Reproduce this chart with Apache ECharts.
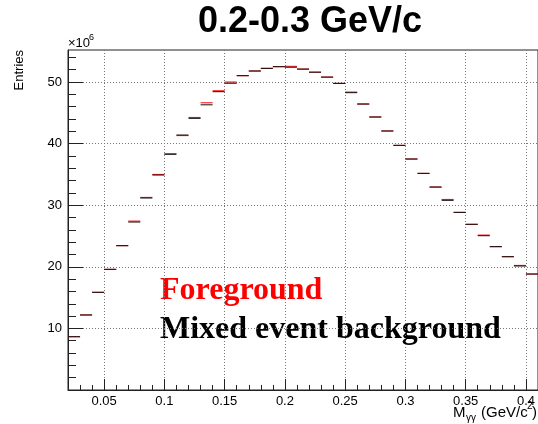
<!DOCTYPE html>
<html>
<head>
<meta charset="utf-8">
<script src="https://cdn.jsdelivr.net/npm/echarts@6/dist/echarts.min.js"></script>
<style>html,body{margin:0;padding:0;background:#fff}#c{width:538px;height:424px}</style>
</head>
<body>
<div id="c"></div>
<script>
// ---- data (units of 10^6 entries) ----
const binLow = [0.02,0.03,0.04,0.05,0.06,0.07,0.08,0.09,0.10,0.11,0.12,0.13,0.14,0.15,0.16,0.17,0.18,0.19,0.20,0.21,0.22,0.23,0.24,0.25,0.26,0.27,0.28,0.29,0.30,0.31,0.32,0.33,0.34,0.35,0.36,0.37,0.38,0.39,0.40];
const binWidth = 0.01;
const background = [8.65,12.18,15.86,19.59,23.43,27.27,31.17,34.90,38.26,41.40,44.10,46.30,48.43,49.80,51.03,51.79,52.22,52.49,52.40,52.10,51.60,50.80,49.78,48.27,46.43,44.32,42.05,39.72,37.50,35.17,32.95,30.79,28.84,26.90,25.05,23.27,21.64,20.13,18.83];
const foreground = [8.65,12.18,15.86,19.59,23.43,27.42,31.27,35.00,38.36,41.30,44.25,46.63,48.58,50.00,51.03,51.79,52.22,52.49,52.55,52.10,51.60,50.80,49.78,48.37,46.43,44.32,42.05,39.72,37.50,35.17,32.95,30.94,28.84,26.90,25.15,23.27,21.64,20.23,18.83];
const xMajor = [0.05,0.10,0.15,0.20,0.25,0.30,0.35,0.40];
const xMinor = [0.02,0.03,0.04,0.06,0.07,0.08,0.09,0.11,0.12,0.13,0.14,0.16,0.17,0.18,0.19,0.21,0.22,0.23,0.24,0.26,0.27,0.28,0.29,0.31,0.32,0.33,0.34,0.36,0.37,0.38,0.39];
const yMajor = [10,20,30,40,50];
const yMinor = [2,4,6,8,12,14,16,18,22,24,26,28,32,34,36,38,42,44,46,48,52,54];
const xMin = 0.02, xMax = 0.41, yMin = 0, yMax = 55.2;

const FONT = '"Liberation Sans", Arial, Helvetica, sans-serif';
const SERIF = '"Liberation Serif", "Times New Roman", serif';
const AX = '#222';

function histData(vals){ return binLow.map((lo,i)=>[lo, lo+binWidth, vals[i]]); }
function histSeries(name, vals, color, w){
  return {
    type:'custom', name, data: histData(vals), clip:true,
    encode:{x:[0,1], y:2},
    renderItem:(params, api)=>{
      const a = api.coord([api.value(0), api.value(2)]);
      const b = api.coord([api.value(1), api.value(2)]);
      return {type:'line', shape:{x1:a[0],y1:a[1],x2:b[0],y2:b[1]}, style:{stroke:color, lineWidth:w}};
    }
  };
}

const chart = echarts.init(document.getElementById('c'), null, {renderer:'canvas'});
chart.setOption({
  animation:false,
  backgroundColor:'#fff',
  grid:{left:68, top:50, width:471, height:340, show:true, borderColor:AX, borderWidth:1, backgroundColor:'transparent'},
  xAxis:[{
    type:'value', min:xMin, max:xMax, position:'bottom',
    axisLine:{show:true, onZero:false, lineStyle:{color:AX}},
    axisTick:{show:true, inside:true, length:11, customValues:xMajor, lineStyle:{color:AX}},
    axisLabel:{customValues:xMajor, formatter:v=>String(+(+v).toFixed(2)), fontSize:13, fontFamily:FONT, color:'#000', margin:5},
    splitLine:{show:true, lineStyle:{type:[1,2], color:'#777'}}
  },{
    type:'value', min:xMin, max:xMax, position:'bottom', offset:0,
    axisLine:{show:false},
    axisTick:{show:true, inside:true, length:5, customValues:xMinor, lineStyle:{color:AX}},
    axisLabel:{show:false}, splitLine:{show:false}
  }],
  yAxis:[{
    type:'value', min:yMin, max:yMax, position:'left',
    axisLine:{show:true, onZero:false, lineStyle:{color:AX}},
    axisTick:{show:true, inside:true, length:15, customValues:yMajor, lineStyle:{color:AX}},
    axisLabel:{customValues:yMajor, fontSize:13, fontFamily:FONT, color:'#000', margin:6},
    splitLine:{show:true, lineStyle:{type:[1,2], color:'#777'}}
  },{
    type:'value', min:yMin, max:yMax, position:'left', offset:0,
    axisLine:{show:false},
    axisTick:{show:true, inside:true, length:8, customValues:yMinor, lineStyle:{color:AX}},
    axisLabel:{show:false}, splitLine:{show:false}
  }],
  series:[ histSeries('Foreground', foreground, '#ff0000', 1), histSeries('Mixed event background', background, '#111', 1) ],
  graphic:[
    {type:'text', x:310, y:22.5, style:{text:'0.2-0.3 GeV/c', font:'bold 36px '+FONT, fill:'#000', align:'center', verticalAlign:'middle'}},
    {type:'text', x:19, y:50, rotation:Math.PI/2, style:{text:'Entries', font:'13px '+FONT, fill:'#000', align:'right', verticalAlign:'middle'}},
    {type:'text', x:68, y:43.5, style:{text:'\u00d710', font:'13px '+FONT, fill:'#000', align:'left', verticalAlign:'middle'}},
    {type:'text', x:89, y:37.5, style:{text:'6', font:'9px '+FONT, fill:'#000', align:'left', verticalAlign:'middle'}},
    {type:'text', x:453, y:413, style:{text:'M', font:'15px '+FONT, fill:'#000', align:'left', verticalAlign:'middle'}},
    {type:'text', x:466, y:418, style:{text:'\u03b3\u03b3', font:'10px '+FONT, fill:'#000', align:'left', verticalAlign:'middle'}},
    {type:'text', x:481, y:413, style:{text:'(GeV/c', font:'15px '+FONT, fill:'#000', align:'left', verticalAlign:'middle'}},
    {type:'text', x:527, y:406, style:{text:'2', font:'10px '+FONT, fill:'#000', align:'left', verticalAlign:'middle'}},
    {type:'text', x:532, y:413, style:{text:')', font:'15px '+FONT, fill:'#000', align:'left', verticalAlign:'middle'}},
    {type:'text', x:160, y:291, style:{text:'Foreground', font:'bold 32px '+SERIF, fill:'#ff0000', align:'left', verticalAlign:'middle'}},
    {type:'text', x:160, y:329.5, style:{text:'Mixed event background', font:'bold 32px '+SERIF, fill:'#000', align:'left', verticalAlign:'middle'}}
  ]
});
</script>
</body>
</html>
